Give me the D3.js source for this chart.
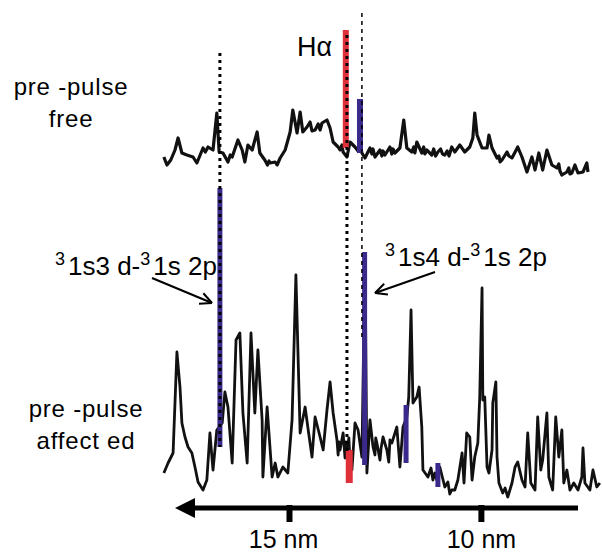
<html>
  <head>
    <script src="https://cdn.jsdelivr.net/npm/d3@7"></script>
    <style type="text/css">
    body { margin: 0; background: #fff; }
    text { font-family: "Liberation Sans", Arial, sans-serif; fill: #000; }
    path.trace { fill: none; stroke: #111; stroke-linejoin: round; }
    line.guide-thick { stroke: #000; stroke-width: 3; stroke-dasharray: 3,4; }
    line.guide-thin { stroke: #000; stroke-width: 1.5; stroke-dasharray: 4,4; }
    rect.ha { fill: #e0303a; }
    rect.line { fill: #3b2a8c; }
    line.arrow { stroke: #000; stroke-width: 2; }
    </style>
  </head>
  <body>
    <script type="text/javascript">

      // wavelength (nm), intensity (a.u.) -- pre-pulse free
      var freeSpectrum = [
        [18.26,23],[18.18,15],[18.08,20],[17.97,30],[17.89,42],[17.79,27],[17.66,25],[17.50,23],
        [17.40,17],[17.24,32],[17.18,28],[17.11,33],[16.98,30],[16.88,67],[16.82,28],[16.72,27],
        [16.59,18],[16.53,25],[16.48,23],[16.33,40],[16.22,30],[16.15,18],[16.07,35],[15.96,30],
        [15.83,48],[15.76,27],[15.63,20],[15.56,15],[15.52,19],[15.49,17],[15.36,18],[15.31,15],
        [15.23,22],[15.10,30],[14.97,48],[14.90,70],[14.79,47],[14.71,68],[14.64,48],[14.53,53],
        [14.45,58],[14.40,49],[14.32,50],[14.24,56],[14.19,50],[14.14,57],[14.01,60],[13.93,52],
        [13.85,38],[13.72,33],[13.67,30],[13.62,35],[13.59,28],[13.49,23],[13.41,38],[13.28,33],
        [13.20,29],[13.15,35],[13.10,27],[13.02,22],[12.89,32],[12.84,26],[12.81,31],[12.76,23],
        [12.63,30],[12.58,24],[12.55,29],[12.50,25],[12.37,33],[12.32,26],[12.29,31],[12.24,27],
        [12.11,32],[12.01,60],[11.93,32],[11.80,28],[11.75,33],[11.72,27],[11.67,38],[11.54,27],
        [11.49,33],[11.46,26],[11.41,30],[11.28,25],[11.23,31],[11.18,24],[11.12,28],[11.05,31],
        [11.00,26],[10.94,25],[10.88,29],[10.83,24],[10.76,33],[10.68,28],[10.55,35],[10.42,28],
        [10.29,33],[10.21,42],[10.16,67],[10.10,45],[9.97,32],[9.84,32],[9.79,45],[9.71,32],
        [9.58,22],[9.53,24],[9.50,18],[9.45,20],[9.32,28],[9.27,24],[9.19,22],[9.04,33],
        [8.93,23],[8.80,8],[8.67,23],[8.59,10],[8.49,27],[8.39,10],[8.28,30],[8.15,15],
        [8.02,12],[7.97,16],[7.94,9],[7.89,5],[7.76,8],[7.71,12],[7.68,6],[7.63,7],
        [7.55,15],[7.47,7],[7.34,8],[7.24,17],[7.21,8]
      ];

      // wavelength (nm), intensity (a.u.) -- pre-pulse affected
      var affectedSpectrum = [
        [18.26,27],[18.15,37],[18.02,47],[17.92,148],[17.84,113],[17.79,77],[17.71,63],[17.63,53],
        [17.53,47],[17.45,33],[17.37,18],[17.24,10],[17.14,20],[17.06,67],[16.98,30],[16.88,70],
        [16.74,77],[16.67,108],[16.59,93],[16.48,37],[16.38,160],[16.28,167],[16.20,87],[16.09,37],
        [15.99,167],[15.89,87],[15.81,150],[15.70,80],[15.68,23],[15.57,93],[15.44,23],[15.36,37],
        [15.29,23],[15.16,33],[15.03,27],[14.92,80],[14.82,225],[14.71,67],[14.58,93],[14.51,73],
        [14.40,43],[14.32,83],[14.19,63],[14.11,50],[14.01,90],[13.93,118],[13.85,87],[13.75,60],
        [13.72,45],[13.70,58],[13.67,50],[13.59,67],[13.54,42],[13.52,58],[13.49,50],[13.44,62],
        [13.41,38],[13.36,30],[13.28,77],[13.20,70],[13.10,43],[13.02,245],[12.97,27],[12.89,80],
        [12.81,53],[12.76,45],[12.74,62],[12.71,57],[12.63,40],[12.60,52],[12.55,63],[12.45,50],
        [12.40,38],[12.37,60],[12.32,57],[12.19,73],[12.11,33],[12.03,73],[11.93,83],[11.88,103],
        [11.82,190],[11.77,97],[11.67,103],[11.61,113],[11.54,73],[11.51,30],[11.38,23],[11.30,32],
        [11.25,20],[11.20,27],[11.15,20],[11.07,33],[10.94,13],[10.86,18],[10.81,6],[10.76,10],
        [10.68,10],[10.60,20],[10.49,47],[10.44,17],[10.37,67],[10.29,63],[10.23,20],[10.16,43],
        [10.08,57],[10.03,103],[9.97,212],[9.95,100],[9.90,103],[9.84,33],[9.79,27],[9.71,50],
        [9.69,97],[9.61,118],[9.58,43],[9.53,17],[9.43,7],[9.37,12],[9.30,3],[9.19,17],
        [9.11,33],[9.04,38],[8.93,20],[8.85,13],[8.78,67],[8.70,17],[8.59,10],[8.52,83],
        [8.44,30],[8.39,40],[8.28,87],[8.23,23],[8.13,10],[8.05,83],[7.97,43],[7.89,70],
        [7.84,17],[7.76,30],[7.68,10],[7.58,17],[7.47,10],[7.37,23],[7.34,52],[7.29,17],
        [7.16,10],[7.08,30],[6.98,13],[6.90,17]
      ];

      // marker bars: wavelength, low, high (panel intensity)
      var hAlphaTop = [[13.52, 32, 150]];
      var hAlphaBottom = [[13.43, 17, 50]];
      var heLinesTop = [[13.15, 27, 81]];
      var heLinesBottom = [[16.80, 53, 312], [13.03, 35, 248], [11.95, 37, 95], [11.12, 13, 37]];

      // guide lines: wavelength, top-panel start, bottom-panel end
      var guides = [[16.80, 127, 53], [13.49, 145, 45], [13.10, 167, 160]];

      var tickValues = [15, 10];

      var width = 602;
      var height = 554;

      var svg = d3.select("body").append("svg")
        .attr("width", width)
        .attr("height", height);

      var x = d3.scaleLinear().domain([17.97, 7.47]).range([175, 578]);
      var yTop = d3.scaleLinear().domain([0, 100]).range([180, 80]);
      var yBot = d3.scaleLinear().domain([0, 250]).range([500, 250]);

      /* Draw spectra */
      svg.append("path")
        .datum(freeSpectrum)
        .attr("class", "trace")
        .attr("stroke-width", 3.2)
        .attr("d", d3.line().x(function(d) { return x(d[0]); }).y(function(d) { return yTop(d[1]); }));

      svg.append("path")
        .datum(affectedSpectrum)
        .attr("class", "trace")
        .attr("stroke-width", 2.8)
        .attr("d", d3.line().x(function(d) { return x(d[0]); }).y(function(d) { return yBot(d[1]); }));

      /* Draw line markers */
      function bars(data, y, cls, w) {
        svg.selectAll(null)
          .data(data)
          .enter()
          .append("rect")
          .attr("class", cls)
          .attr("x", function(d) { return x(d[0]) - w/2; })
          .attr("y", function(d) { return y(d[2]); })
          .attr("width", w)
          .attr("height", function(d) { return y(d[1]) - y(d[2]); });
      }
      bars(hAlphaTop, yTop, "ha", 6);
      bars(hAlphaBottom, yBot, "ha", 7);
      bars(heLinesTop, yTop, "line", 6);
      bars(heLinesBottom, yBot, "line", 5);

      /* Draw guides */
      svg.selectAll("line.guide")
        .data(guides)
        .enter()
        .append("line")
        .attr("class", function(d, i) { return i < 2 ? "guide-thick" : "guide-thin"; })
        .attr("x1", function(d) { return x(d[0]); })
        .attr("x2", function(d) { return x(d[0]); })
        .attr("y1", function(d) { return yTop(d[1]); })
        .attr("y2", function(d) { return yBot(d[2]); });

      /* Draw x-axis */
      var axis = svg.append("g")
        .attr("transform", "translate(0,508)")
        .call(d3.axisBottom(x).tickValues(tickValues).tickSizeOuter(0)
          .tickFormat(function(d) { return d + " nm"; }));

      axis.attr("font-family", null).attr("font-size", null);

      axis.select(".domain")
        .attr("d", "M185,0H" + x.range()[1])
        .attr("stroke", "#000")
        .attr("stroke-width", 5);

      axis.append("path")
        .attr("d", "M" + x.range()[0] + ",0l20,-10v20z")
        .attr("fill", "#000");

      axis.selectAll(".tick line")
        .attr("y1", -3)
        .attr("y2", 14)
        .attr("stroke", "#000")
        .attr("stroke-width", 6);

      axis.selectAll(".tick text")
        .attr("y", 40)
        .attr("dy", 0)
        .attr("dx", function(d) { return d === 15 ? -6 : 0; })
        .style("font-size", "25px")
        .attr("fill", "#000");

      /* Panel captions */
      function caption(lines, cx, y0) {
        svg.selectAll(null)
          .data(lines)
          .enter()
          .append("text")
          .attr("x", cx)
          .attr("y", function(d, i) { return y0 + i * 32; })
          .attr("text-anchor", "middle")
          .style("font-size", "24px")
          .style("letter-spacing", "0.8px")
          .text(function(d) { return d; });
      }
      caption(["pre -pulse", "free"], 71, 95);
      caption(["pre -pulse", "affect ed"], 86, 417);

      svg.append("text")
        .attr("x", 297)
        .attr("y", 56)
        .style("font-size", "27px")
        .text("H\u03b1");

      /* Transition labels */
      function transition(x0, y0, a, b) {
        var t = svg.append("text")
          .attr("x", x0)
          .attr("y", y0)
          .style("font-size", "26px");
        t.append("tspan").attr("dy", -10).style("font-size", "18px").text("3");
        t.append("tspan").attr("dy", 10).attr("dx", 3).text(a);
        t.append("tspan").attr("dy", -10).style("font-size", "18px").text("3");
        t.append("tspan").attr("dy", 10).attr("dx", 3).text(b);
      }
      transition(55, 275, "1s3 d-", "1s 2p");
      transition(385, 266, "1s4 d-", "1s 2p");

      function arrow(x1, y1, x2, y2) {
        var ang = Math.atan2(y2 - y1, x2 - x1);
        var L = 13, spread = 0.45;
        svg.append("line").attr("class", "arrow")
          .attr("x1", x1).attr("y1", y1).attr("x2", x2).attr("y2", y2);
        [-spread, spread].forEach(function(s) {
          svg.append("line").attr("class", "arrow")
            .attr("x1", x2).attr("y1", y2)
            .attr("x2", x2 - L * Math.cos(ang + s))
            .attr("y2", y2 - L * Math.sin(ang + s));
        });
      }
      arrow(152, 278, 212, 303);
      arrow(435, 272, 375, 293);

    </script>
  </body>
</html>
